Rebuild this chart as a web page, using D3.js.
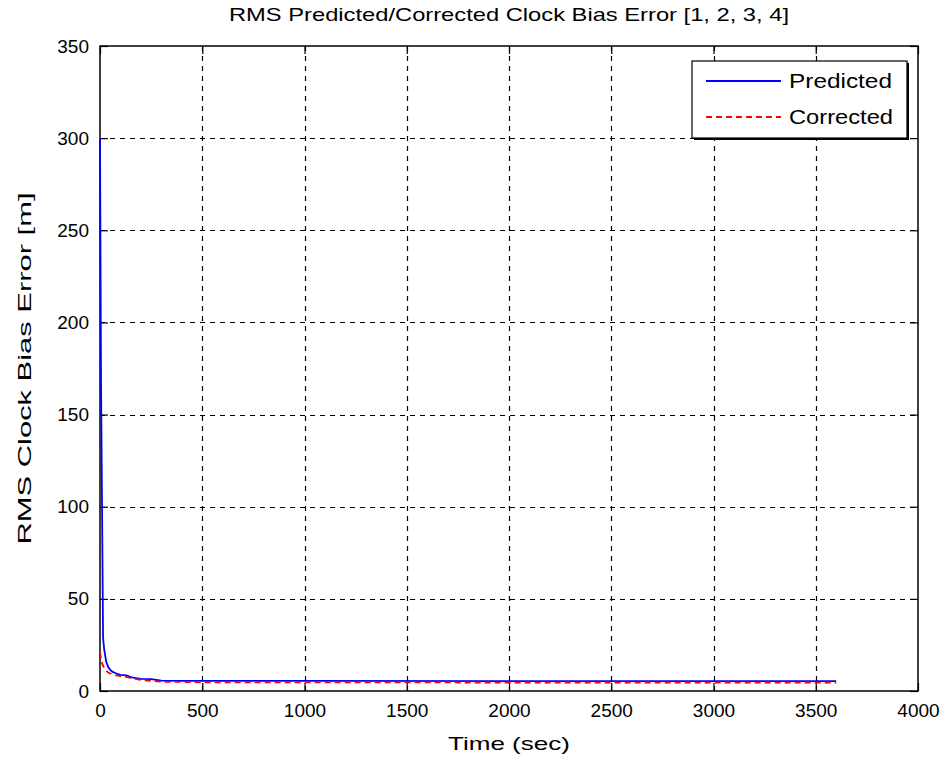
<!DOCTYPE html>
<html>
<head>
<meta charset="utf-8">
<script src="https://cdn.jsdelivr.net/npm/d3@7"></script>
<style>
  html, body { margin: 0; padding: 0; background: #fff; }
  svg { display: block; font-family: "Liberation Sans", Arial, sans-serif; }
</style>
</head>
<body>
<svg id="chart" width="946" height="761"></svg>
<script>
// ---- Data ----
const chartTitle = "RMS Predicted/Corrected Clock Bias Error [1, 2, 3, 4]";
const xLabel = "Time (sec)";
const yLabel = "RMS Clock Bias Error [m]";
const xTicks = [0, 500, 1000, 1500, 2000, 2500, 3000, 3500, 4000];
const yTicks = [0, 50, 100, 150, 200, 250, 300, 350];

const predictedTime  = [0, 5, 10, 15, 20, 30, 40, 50, 60, 80, 100, 130, 160, 200, 250, 300, 400, 500, 1000, 2000, 3000, 3600];
const predictedValue = [300, 168, 100, 29, 23, 16, 13, 11.5, 10.5, 9.5, 8.8, 8.5, 7.2, 6.6, 6.4, 5.6, 5.5, 5.5, 5.5, 5.4, 5.4, 5.4];

const correctedTime  = [0, 5, 10, 20, 30, 40, 60, 80, 100, 130, 160, 200, 250, 300, 400, 500, 1000, 2000, 3000, 3600];
const correctedValue = [21, 18, 15, 12.5, 11, 10, 9, 8.5, 8.1, 7.6, 6.8, 6.0, 5.5, 5.0, 4.9, 4.7, 4.7, 4.6, 4.6, 4.6];

const seriesNames = ["Predicted", "Corrected"];
const seriesColors = ["#0000ff", "#ff0000"];

// ---- Layout ----
const svg = d3.select("#chart");
const L = 100, R = 918, T = 46, B = 691;
const FONT = "'Liberation Sans', Arial, sans-serif";

const x = d3.scaleLinear().domain([0, 4000]).range([L, R]);
const y = d3.scaleLinear().domain([0, 350]).range([B, T]);

svg.append("rect").attr("x", 0).attr("y", 0).attr("width", 946).attr("height", 761).attr("fill", "#fff");

// grid
const grid = svg.append("g").attr("stroke", "#000").attr("stroke-width", 1.2).attr("stroke-dasharray", "5,5");
grid.selectAll("line.v").data(xTicks.filter(d => d > 0 && d < 4000)).enter().append("line")
  .attr("x1", d => Math.round(x(d)) + 0.5).attr("x2", d => Math.round(x(d)) + 0.5)
  .attr("y1", T).attr("y2", B);
grid.selectAll("line.h").data(yTicks.filter(d => d > 0 && d < 350)).enter().append("line")
  .attr("y1", d => Math.round(y(d)) + 0.5).attr("y2", d => Math.round(y(d)) + 0.5)
  .attr("x1", L).attr("x2", R);

// axes (inward ticks on all four sides)
const tickLen = 8;
const axB = svg.append("g").attr("transform", `translate(0,${B})`)
  .call(d3.axisBottom(x).tickValues(xTicks).tickSizeInner(-tickLen).tickSizeOuter(0).tickPadding(13).tickFormat(d3.format("d")));
const axT = svg.append("g").attr("transform", `translate(0,${T})`)
  .call(d3.axisTop(x).tickValues(xTicks).tickSizeInner(-tickLen).tickSizeOuter(0).tickFormat(""));
const axL = svg.append("g").attr("transform", `translate(${L},0)`)
  .call(d3.axisLeft(y).tickValues(yTicks).tickSizeInner(-tickLen).tickSizeOuter(0).tickPadding(11).tickFormat(d3.format("d")));
const axR = svg.append("g").attr("transform", `translate(${R},0)`)
  .call(d3.axisRight(y).tickValues(yTicks).tickSizeInner(-tickLen).tickSizeOuter(0).tickFormat(""));
[axB, axT, axL, axR].forEach(a => {
  a.select(".domain").remove();
  a.selectAll("line").attr("stroke", "#000").attr("stroke-width", 1.2);
  a.selectAll("text").attr("fill", "#000").attr("font-size", 19).attr("font-family", FONT);
});
axB.selectAll("text").attr("dy", "0.71em");

// frame
svg.append("rect").attr("x", L).attr("y", T).attr("width", R - L).attr("height", B - T)
  .attr("fill", "none").attr("stroke", "#000").attr("stroke-width", 1.5);

// lines
const line = d3.line().x(d => x(d[0])).y(d => y(d[1]));
const predicted = predictedTime.map((t, i) => [t, predictedValue[i]]);
const corrected = correctedTime.map((t, i) => [t, correctedValue[i]]);

svg.append("path").datum(predicted).attr("d", line)
  .attr("fill", "none").attr("stroke", seriesColors[0]).attr("stroke-width", 1.8);
svg.append("path").datum(corrected).attr("d", line)
  .attr("fill", "none").attr("stroke", seriesColors[1]).attr("stroke-width", 1.8).attr("stroke-dasharray", "6,4");

// title and labels
svg.append("text").attr("x", (L + R) / 2).attr("y", 21).attr("text-anchor", "middle")
  .attr("font-size", 19).attr("fill", "#000")
  .attr("textLength", 560).attr("lengthAdjust", "spacingAndGlyphs").text(chartTitle);
svg.append("text").attr("x", (L + R) / 2).attr("y", 750).attr("text-anchor", "middle")
  .attr("font-size", 19).attr("fill", "#000")
  .attr("textLength", 122).attr("lengthAdjust", "spacingAndGlyphs").text(xLabel);
svg.append("text").attr("transform", `translate(31,${(T + B) / 2}) rotate(-90)`).attr("text-anchor", "middle")
  .attr("font-size", 19).attr("fill", "#000")
  .attr("textLength", 352).attr("lengthAdjust", "spacingAndGlyphs").text(yLabel);

// legend
const lg = svg.append("g");
const lx = 692, ly = 61, lw = 215, lh = 77;
lg.append("rect").attr("x", lx + 2).attr("y", ly + 2).attr("width", lw).attr("height", lh).attr("fill", "#000");
lg.append("rect").attr("x", lx).attr("y", ly).attr("width", lw).attr("height", lh)
  .attr("fill", "#fff").attr("stroke", "#000").attr("stroke-width", 1.2);
const rowY = [81, 117];
const legendTextLen = [103, 104];
seriesNames.forEach((name, i) => {
  lg.append("line").attr("x1", 706).attr("x2", 781).attr("y1", rowY[i]).attr("y2", rowY[i])
    .attr("stroke", seriesColors[i]).attr("stroke-width", 1.8)
    .attr("stroke-dasharray", i === 1 ? "6,4" : null);
  lg.append("text").attr("x", 789).attr("y", rowY[i]).attr("dy", "0.35em")
    .attr("font-size", 20).attr("fill", "#000")
    .attr("textLength", legendTextLen[i]).attr("lengthAdjust", "spacingAndGlyphs").text(name);
});
</script>
</body>
</html>
